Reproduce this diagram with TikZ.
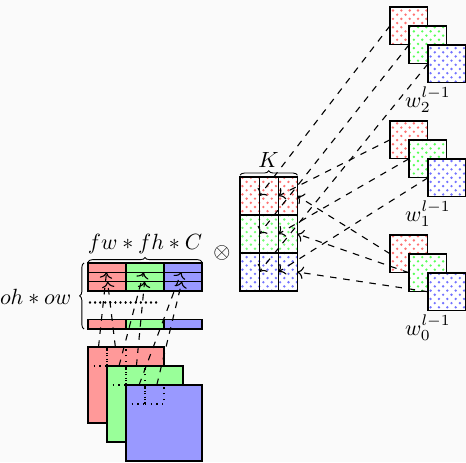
\documentclass[tikz,border=0pt]{standalone}
\usetikzlibrary{patterns,decorations.pathreplacing,arrows.meta}
\pgfdeclarepatternformonly{smalldots}{\pgfqpoint{-0.7pt}{-0.7pt}}{\pgfqpoint{3.0pt}{3.0pt}}{\pgfqpoint{3.8pt}{3.8pt}}{%
  \pgfpathcircle{\pgfqpoint{0pt}{0pt}}{0.6pt}%
  \pgfpathcircle{\pgfqpoint{1.9pt}{1.9pt}}{0.6pt}%
  \pgfusepath{fill}}
\definecolor{bgc}{rgb}{0.98,0.98,0.98}
\newcommand\pxu{0.4545pt}
\begin{document}
\begin{tikzpicture}[x=0.4545pt,y=-0.4545pt,
  lcell/.style={draw=black, semithick, minimum width=38*\pxu, minimum height=9.33*\pxu, inner sep=0pt, outer sep=0pt},
  kcell/.style={draw=black, semithick, preaction={fill=white}, pattern=smalldots, minimum width=19.1*\pxu, minimum height=38*\pxu, inner sep=0pt, outer sep=0pt},
  wsq/.style={draw=black, semithick, preaction={fill=white}, pattern=smalldots, minimum width=37.5*\pxu, minimum height=37.5*\pxu, inner sep=0pt, outer sep=0pt},
  fmap/.style={draw=black, semithick, minimum width=76*\pxu, minimum height=76*\pxu, inner sep=0pt, outer sep=0pt},
  win/.style={draw=black, dotted, line width=0.6pt, minimum width=19*\pxu, minimum height=19*\pxu, inner sep=0pt, outer sep=0pt},
  darr/.style={->, dashed, line width=0.5pt},
  dotrow/.style={line width=1.1pt, dash pattern=on 0.01pt off 2.3pt, line cap=round},
  bracedec/.style={decorate, decoration={brace, amplitude=2pt, raise=#1}},
]
\path[use as bounding box, fill=bgc] (0,0) rectangle (466,462);

% input feature maps with windows
\node[fmap, fill=red!40] (fr) at (126,385) {};
\node[win] (rw1) at (97.5,356.5) {};
\node[win] (rw2) at (116.5,356.5) {};
\node[fmap, fill=green!40] (fg) at (145,404) {};
\node[win] (gw1) at (116.5,375.5) {};
\node[win] (gw2) at (135.5,375.5) {};
\node[fmap, fill=blue!40] (fb) at (164,423) {};
\node[win] (bw1) at (135.5,394.5) {};
\node[win] (bw2) at (154.5,394.5) {};

% left matrix
\foreach \c/\x/\col in {1/107/red,2/145/green,3/183/blue} {
  \foreach \r/\y in {1/267.65,2/277,3/286.35,4/324.3} {
    \node[lcell, fill=\col!40] (m-\r-\c) at (\x,\y) {};
  }
}
\draw[dotrow] (90,302.5) -- (158,302.5);
\draw[bracedec=0.5pt] (m-1-1.north west) -- (m-1-3.north east);
\node (lfw) at (145,244) {$fw*fh*C$};
\draw[bracedec=1.8pt] (m-4-1.south west) -- (m-1-1.north west);
\node[anchor=east] (loh) at (79,297) {$oh*ow$};

\node (ot) at (222,253) {$\otimes$};

% kernel matrix
\foreach \r/\y/\col in {1/196/red,2/234/green,3/272/blue} {
  \foreach \c/\x in {1/249.65,2/268.75,3/287.85} {
    \node[kcell, pattern color=\col!55] (k-\r-\c) at (\x,\y) {};
  }
}
\draw[bracedec=0.8pt] (k-1-1.north west) -- (k-1-3.north east);
\node (lK) at (268.5,160) {$K$};

% weight groups
\foreach \g/\T in {2/7,1/121,0/235} {
  \node[wsq, pattern color=red!55] (w\g r) at (408.75,\T+18.75) {};
  \node[wsq, pattern color=green!65] (w\g g) at (427.75,\T+37.75) {};
  \node[wsq, pattern color=blue!55] (w\g b) at (446.75,\T+56.75) {};
  \node (lw\g) at (428,\T+93) {$w_{\g}^{l-1}$};
}

% im2col connectors
\draw[darr] (rw1) -- (m-1-1);
\draw[darr] (rw2) -- (m-2-1);
\draw[darr] (gw1) -- (m-1-2);
\draw[darr] (gw2) -- (m-2-2);
\draw[darr] (bw1) -- (m-1-3);
\draw[darr] (bw2) -- (m-2-3);

% weight connectors
\draw[darr] (w2r.west) -- (k-1-1.east);
\draw[darr] (w2g.west) -- (k-2-1.east);
\draw[darr] (w2b.west) -- (k-3-1.east);
\draw[darr] (w1r.west) -- (k-1-2.east);
\draw[darr] (w1g.west) -- (k-2-2.east);
\draw[darr] (w1b.west) -- (k-3-2.east);
\draw[darr] (w0r.west) -- (k-1-3.east);
\draw[darr] (w0g.west) -- (k-2-3.east);
\draw[darr] (w0b.west) -- (k-3-3.east);
\end{tikzpicture}
\end{document}
